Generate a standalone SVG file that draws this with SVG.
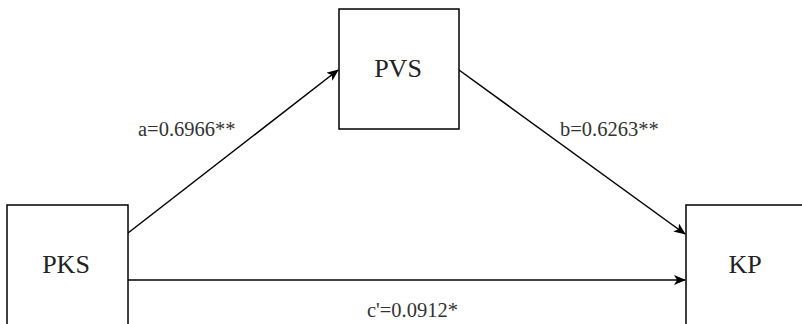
<svg xmlns="http://www.w3.org/2000/svg" width="802" height="324" viewBox="0 0 802 324">
<style>
.box{fill:#fff;stroke:#000;stroke-width:1.5}
.nt{font-family:'Liberation Serif','Times New Roman',serif;font-size:26px;fill:#222;text-anchor:middle}
.lt{font-family:'Liberation Serif','Times New Roman',serif;font-size:20.5px;fill:#333}
.cn{stroke:#000;stroke-width:1.5;fill:none}
</style>
<defs>
<marker id="ar" viewBox="0 0 12 10" refX="11" refY="5" markerWidth="12" markerHeight="10" markerUnits="userSpaceOnUse" orient="auto">
<path d="M0,0 L12,5 L0,10 L3,5 Z" fill="#000"/>
</marker>
</defs>
<rect width="802" height="324" fill="#fff"/>
<g id="connectors">
<line class="cn" x1="128" y1="233" x2="338" y2="70" marker-end="url(#ar)"/>
<line class="cn" x1="459" y1="70" x2="685" y2="234" marker-end="url(#ar)"/>
<line class="cn" x1="128" y1="280" x2="685" y2="280" marker-end="url(#ar)"/>
<text class="lt" x="138" y="136">a=0.6966**</text>
<text class="lt" x="560" y="136">b=0.6263**</text>
<text class="lt" x="367" y="317">c'=0.0912*</text>
</g>
<g id="PKS">
<rect class="box" x="7" y="205" width="121" height="130"/>
<text class="nt" x="66" y="273">PKS</text>
</g>
<g id="PVS">
<rect class="box" x="339" y="9" width="120" height="120"/>
<text class="nt" x="398" y="77">PVS</text>
</g>
<g id="KP">
<rect class="box" x="686" y="205" width="130" height="130"/>
<text class="nt" x="745" y="273">KP</text>
</g>
</svg>
